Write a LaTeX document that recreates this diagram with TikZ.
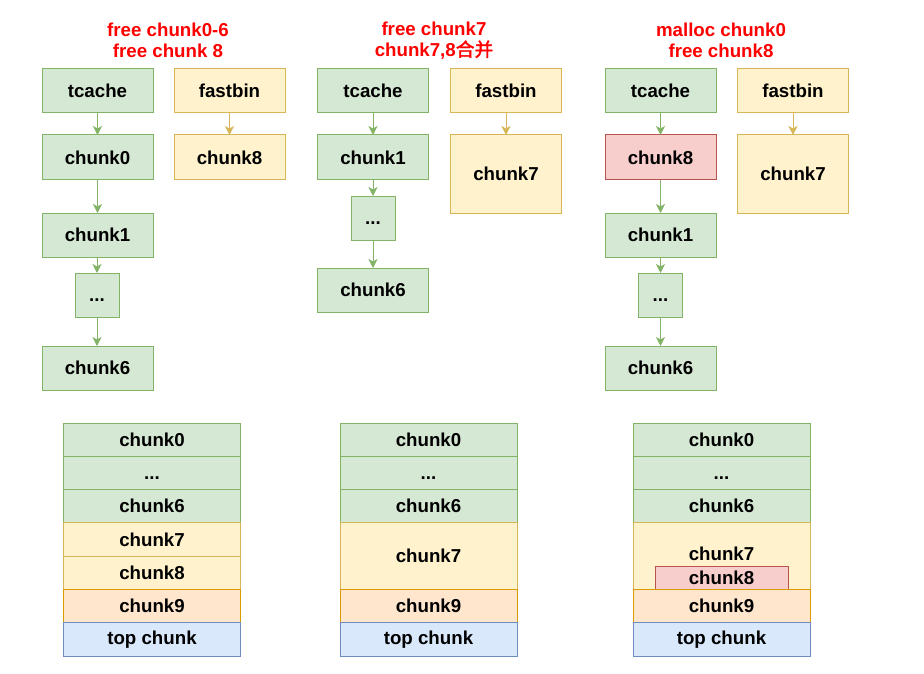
\documentclass[tikz,border=0pt]{standalone}
\usepackage{fontspec}
\setmainfont{Liberation Sans}
\newfontfamily\cjk{Noto Sans CJK SC}[AutoFakeBold=2]
\usetikzlibrary{arrows.meta}
\definecolor{gfill}{HTML}{D5E8D4}\definecolor{gline}{HTML}{82B366}
\definecolor{yfill}{HTML}{FFF2CC}\definecolor{yline}{HTML}{D6B656}
\definecolor{rfill}{HTML}{F8CECC}\definecolor{rline}{HTML}{B85450}
\definecolor{ofill}{HTML}{FFE6CC}\definecolor{oline}{HTML}{D79B00}
\definecolor{bfill}{HTML}{DAE8FC}\definecolor{bline}{HTML}{6C8EBF}
\newcommand{\dotstxt}{\vphantom{k}...}
\tikzset{
  box/.style={draw, line width=1pt, inner sep=0pt, outer sep=0pt, font=\fontsize{18.7}{20}\selectfont\bfseries, minimum width=111pt, minimum height=44pt},
  gbox/.style={box, fill=gfill, draw=gline},
  ybox/.style={box, fill=yfill, draw=yline},
  rbox/.style={box, fill=rfill, draw=rline},
  obox/.style={box, fill=ofill, draw=oline},
  bbox/.style={box, fill=bfill, draw=bline},
  dotbox/.style={gbox, minimum width=44pt},
  tallbox/.style={ybox, minimum height=78pt},
  row/.style={minimum width=177pt, minimum height=33.3pt},
  garrow/.style={draw=gline, line width=1pt, -{Stealth[length=9pt,width=9pt,inset=2.5pt]}},
  yarrow/.style={draw=yline, line width=1pt, -{Stealth[length=9pt,width=9pt,inset=2.5pt]}},
  ttl/.style={text=red, font=\fontsize{18.7}{21}\selectfont\bfseries, align=center, inner sep=0pt}
}
\begin{document}
\begin{tikzpicture}[x=1pt,y=-1pt]
\useasboundingbox (0,0) rectangle (924,674);
% titles
\node[ttl] (t1) at (168,40.5) {free chunk0-6\\free chunk 8};
\node[ttl] (t2) at (434,40.5) {free chunk7\\chunk7,8{\cjk 合并}};
\node[ttl] (t3) at (721,40.5) {malloc chunk0\\free chunk8};
% panel 1
\node[gbox] (p1tc) at (97.5,91) {tcache};
\node[ybox] (p1fb) at (229.5,91) {fastbin};
\node[gbox, minimum height=45pt] (p1c0) at (97.5,157.5) {chunk0};
\node[ybox, minimum height=45pt] (p1c8) at (229.5,157.5) {chunk8};
\node[gbox] (p1c1) at (97.5,235) {chunk1};
\node[dotbox] (p1d) at (97,295) {\dotstxt};
\node[gbox] (p1c6) at (97.5,368) {chunk6};
\draw[garrow] (p1tc) -- (p1c0);
\draw[garrow] (p1c0) -- (p1c1);
\draw[garrow] (p1c1.south -| p1d) -- (p1d);
\draw[garrow] (p1d) -- (p1d |- p1c6.north);
\draw[yarrow] (p1fb) -- (p1c8);
% panel 2
\node[gbox] (p2tc) at (373,91) {tcache};
\node[ybox] (p2fb) at (506,91) {fastbin};
\node[gbox, minimum height=45pt] (p2c1) at (373,157.5) {chunk1};
\node[tallbox] (p2c7) at (506,174) {chunk7};
\node[dotbox] (p2d) at (373,218) {\dotstxt};
\node[gbox] (p2c6) at (373,290) {chunk6};
\draw[garrow] (p2tc) -- (p2c1);
\draw[garrow] (p2c1) -- (p2d);
\draw[garrow] (p2d) -- (p2c6);
\draw[yarrow] (p2fb) -- (p2c7);
% panel 3
\node[gbox] (p3tc) at (660.5,91) {tcache};
\node[ybox] (p3fb) at (793,91) {fastbin};
\node[rbox, minimum height=45pt] (p3c8) at (660.5,157.5) {chunk8};
\node[tallbox] (p3c7) at (793,174) {chunk7};
\node[gbox] (p3c1) at (660.5,235) {chunk1};
\node[dotbox] (p3d) at (660.5,295) {\dotstxt};
\node[gbox] (p3c6) at (660.5,368) {chunk6};
\draw[garrow] (p3tc) -- (p3c8);
\draw[garrow] (p3c8) -- (p3c1);
\draw[garrow] (p3c1) -- (p3d);
\draw[garrow] (p3d) -- (p3c6);
\draw[yarrow] (p3fb) -- (p3c7);
% memory table 1
\node[gbox,row] (m1a) at (152,439.65) {chunk0};
\node[gbox,row] (m1b) at (152,472.95) {\dotstxt};
\node[gbox,row] (m1c) at (152,506.25) {chunk6};
\node[ybox,row] (m1d) at (152,539.55) {chunk7};
\node[ybox,row] (m1e) at (152,572.85) {chunk8};
\node[obox,row] (m1f) at (152,606.15) {chunk9};
\node[bbox,row] (m1g) at (152,639.45) {top chunk};
% memory table 2
\node[gbox,row] (m2a) at (428.5,439.65) {chunk0};
\node[gbox,row] (m2b) at (428.5,472.95) {\dotstxt};
\node[gbox,row] (m2c) at (428.5,506.25) {chunk6};
\node[ybox,row,minimum height=66.6pt] (m2d) at (428.5,556.2) {chunk7};
\node[obox,row] (m2f) at (428.5,606.15) {chunk9};
\node[bbox,row] (m2g) at (428.5,639.45) {top chunk};
% memory table 3
\node[gbox,row] (m3a) at (721.5,439.65) {chunk0};
\node[gbox,row] (m3b) at (721.5,472.95) {\dotstxt};
\node[gbox,row] (m3c) at (721.5,506.25) {chunk6};
\node[ybox,row,minimum height=66.6pt] (m3d) at (721.5,556.2) {};
\node[font=\fontsize{18.7}{20}\selectfont\bfseries, inner sep=0pt] (m3dt) at (721.5,554) {chunk7};
\node[rbox, minimum width=133pt, minimum height=23pt] (m3e) at (721.5,578) {chunk8};
\node[obox,row] (m3f) at (721.5,606.15) {chunk9};
\node[bbox,row] (m3g) at (721.5,639.45) {top chunk};
\end{tikzpicture}
\end{document}
